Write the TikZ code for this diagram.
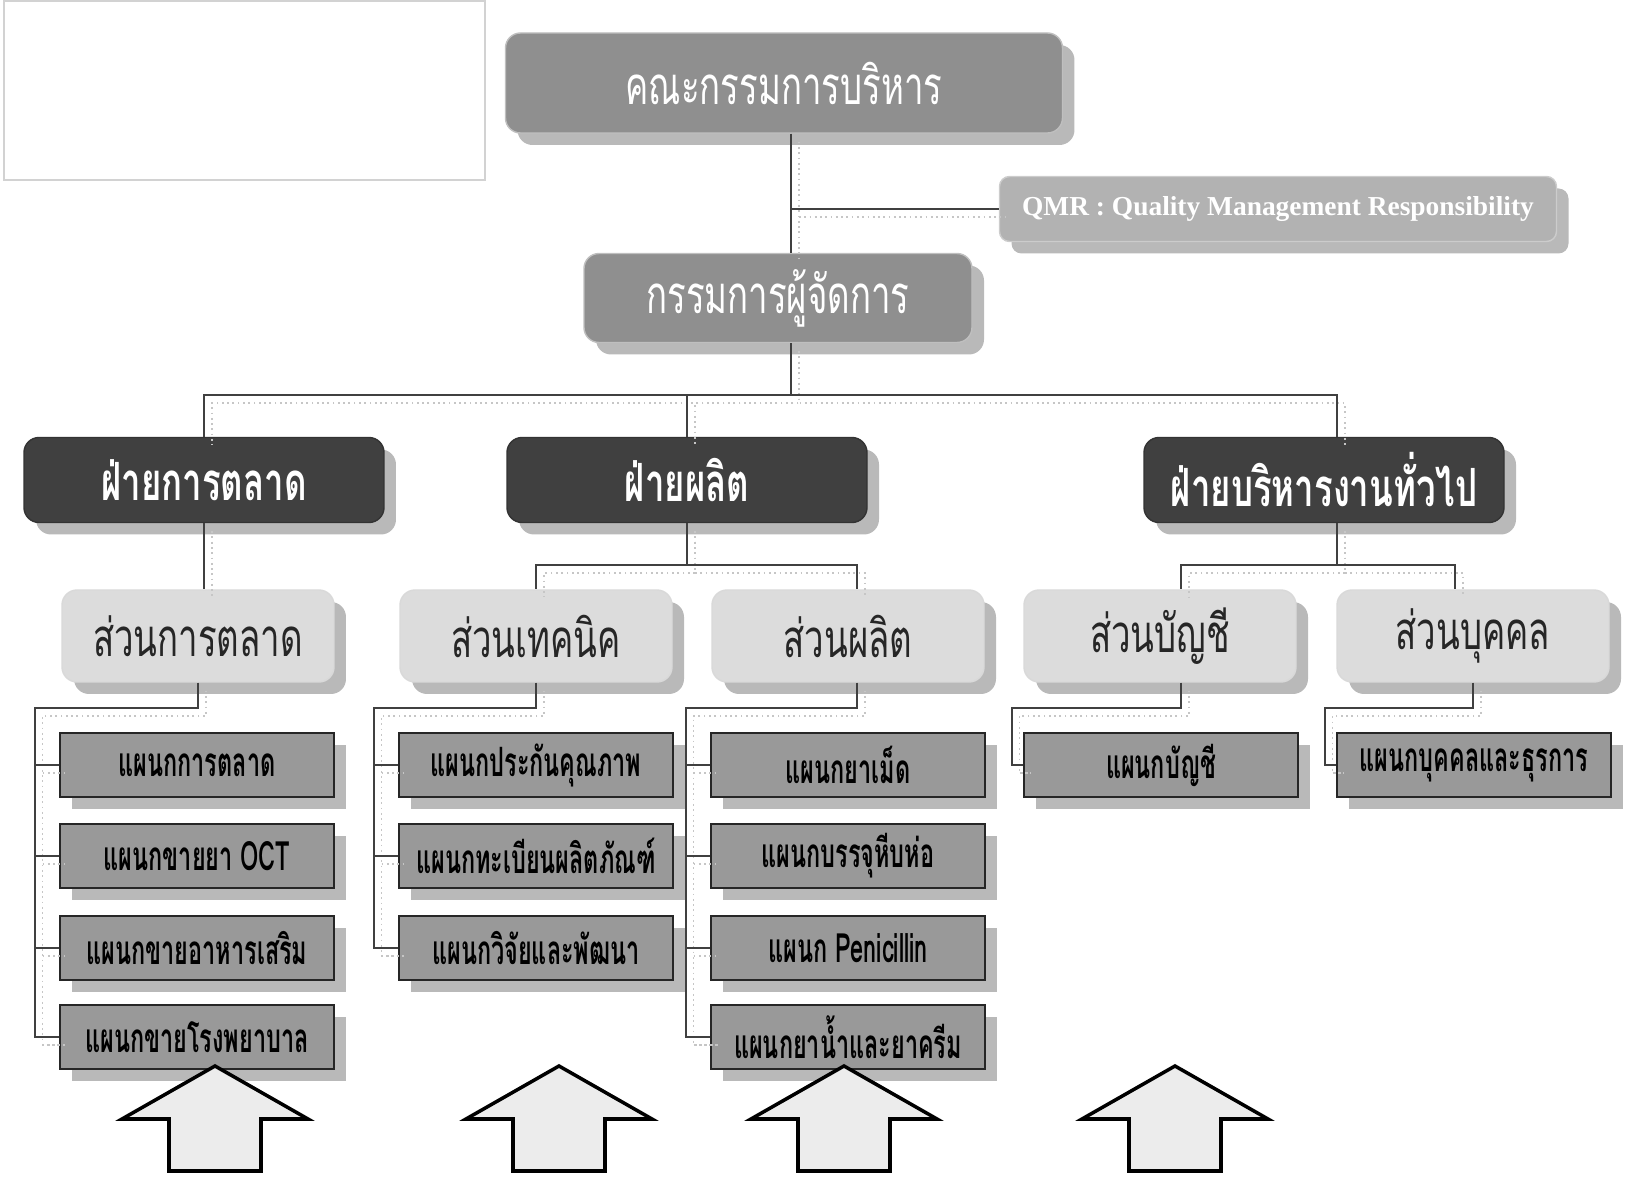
\documentclass[tikz,border=0pt]{standalone}
\usepackage{fontspec}
\setmainfont{Liberation Serif}
\newfontfamily\thaifont[Script=Thai,FakeStretch=0.66]{Loma}
\newfontfamily\thaiunitfont[Script=Thai,FakeStretch=0.58]{Loma}
\usetikzlibrary{shadows}
\definecolor{boardgray}{HTML}{8F8F8F}
\definecolor{qmrgray}{HTML}{B2B2B2}
\definecolor{divgray}{HTML}{404040}
\definecolor{partgray}{HTML}{DCDCDC}
\definecolor{unitgray}{HTML}{999999}
\definecolor{arrowfill}{HTML}{ECECEC}

\begin{document}
\begin{tikzpicture}[x=0.1mm,y=-0.1mm,
    shadowed/.style={drop shadow={shadow xshift=1.2mm,shadow yshift=-1.2mm,fill=gray!55,opacity=1}},
    board/.style={shadowed,rounded corners=1.5mm,fill=boardgray,draw=gray!50,text=white,
      minimum width=55.7mm,minimum height=10mm,inner sep=0pt,font=\thaifont\fontsize{15}{18}\selectfont},
    qmr/.style={shadowed,rounded corners=1mm,fill=qmrgray,draw=gray!40,text=white,
      minimum width=55.7mm,minimum height=6.5mm,inner sep=0pt,font=\fontsize{7.8}{9}\selectfont\bfseries},
    division/.style={shadowed,rounded corners=1.5mm,fill=divgray,draw=black!80,text=white,
      minimum width=36mm,minimum height=8.5mm,inner sep=0pt,font=\thaifont\fontsize{15}{18}\selectfont\bfseries},
    part/.style={shadowed,rounded corners=1.5mm,fill=partgray,draw=gray!30,text=black!85,
      minimum width=27.2mm,minimum height=9.2mm,inner sep=0pt,font=\thaifont\fontsize{15}{18}\selectfont},
    unit/.style={shadowed,fill=unitgray,draw=black!85,line width=0.8pt,text=black,
      minimum width=27.4mm,minimum height=6.4mm,inner sep=0pt,font=\thaiunitfont\fontsize{11.5}{13}\selectfont\bfseries},
    link/.style={draw=black!75,line width=0.6pt,
      preaction={draw=gray!45,densely dotted,line width=0.5pt,transform canvas={shift={(8,8)}}}},
    arrowbox/.style={fill=arrowfill,draw=black,line width=1pt,line join=miter}]
  \useasboundingbox (0,0) rectangle (1628,1177);
  % empty frame
  \draw[gray!35] (4,1) rectangle (485,180);
  % top
  \node[board] (board) at (784,83) {คณะกรรมการบริหาร};
  \node[qmr] (qmr) at (1278,209) {QMR : Quality Management Responsibility};
  \node[board,minimum width=38.8mm,minimum height=8.9mm] (md) at (778,298) {กรรมการผู้จัดการ};
  \coordinate (spine) at (791,0);
  % divisions
  \foreach \n/\x/\t in {dmkt/204/ฝ่ายการตลาด, dprod/687/ฝ่ายผลิต, dadmin/1324/ฝ่ายบริหารงานทั่วไป}
    \node[division] (\n) at (\x,480) {\t};
  % parts
  \foreach \n/\x/\t in {pmkt/198/ส่วนการตลาด, ptech/536/ส่วนเทคนิค, pprod/848/ส่วนผลิต, pacc/1160/ส่วนบัญชี, pstaff/1473/ส่วนบุคคล}
    \node[part] (\n) at (\x,636) {\t};
  % units
  \foreach \i/\y/\t in {1/765/แผนกการตลาด, 2/856/แผนกขายยา OCT, 3/948/แผนกขายอาหารเสริม, 4/1037/แผนกขายโรงพยาบาล}
    \node[unit] (umkt\i) at (197,\y) {\t};
  \foreach \i/\y/\t in {1/765/แผนกประกันคุณภาพ, 2/856/แผนกทะเบียนผลิตภัณฑ์, 3/948/แผนกวิจัยและพัฒนา}
    \node[unit] (utech\i) at (536,\y) {\t};
  \foreach \i/\y/\t in {1/765/แผนกยาเม็ด, 2/856/แผนกบรรจุหีบห่อ, 3/948/แผนก Penicillin, 4/1037/แผนกยาน้ำและยาครีม}
    \node[unit] (uprod\i) at (848,\y) {\t};
  \node[unit] (uacc1) at (1161,765) {แผนกบัญชี};
  \node[unit] (ustaff1) at (1474,765) {แผนกบุคคลและธุรการ};
  % links
  \draw[link] (board.south -| spine) -- (md.north -| spine);
  \draw[link] (qmr.west -| spine) -- (qmr.west);
  \foreach \n/\s in {dmkt/0,dprod/0,dadmin/1.3}
    \draw[link] (md.south -| spine) -- ++(0,52) -| ([xshift=\s mm]\n.north);
  \draw[link] (dmkt.south) -- (dmkt.south |- pmkt.north);
  \foreach \p/\s in {ptech/0,pprod/0.9}
    \draw[link] (dprod.south) -- ++(0,42) -| ([xshift=\s mm]\p.north);
  \foreach \p/\s in {pacc/2.1,pstaff/-1.8}
    \draw[link] ([xshift=1.3mm]dadmin.south) -- ++(0,42) -| ([xshift=\s mm]\p.north);
  \foreach \p/\u/\k/\d/\s in {pmkt/umkt/4/24/0, ptech/utech/3/24/0, pprod/uprod/4/24/0.9, pacc/uacc/1/11/2.1, pstaff/ustaff/1/11/0} {
    \draw[link] ([xshift=\s mm]\p.south) -- ++(0,25) -| ([xshift=-\d*0.1mm]\u\k.west) -- (\u\k.west);
    \foreach \i in {1,...,\k}
      \draw[link] ([xshift=-\d*0.1mm]\u\i.west) -- (\u\i.west);
  }
  % block arrows
  \foreach \t in {215,559,844,1175}
    \draw[arrowbox] (\t,1066) -- (\t+93,1119) -- (\t+46,1119) -- (\t+46,1171)
      -- (\t-46,1171) -- (\t-46,1119) -- (\t-93,1119) -- cycle;
\end{tikzpicture}
\end{document}
